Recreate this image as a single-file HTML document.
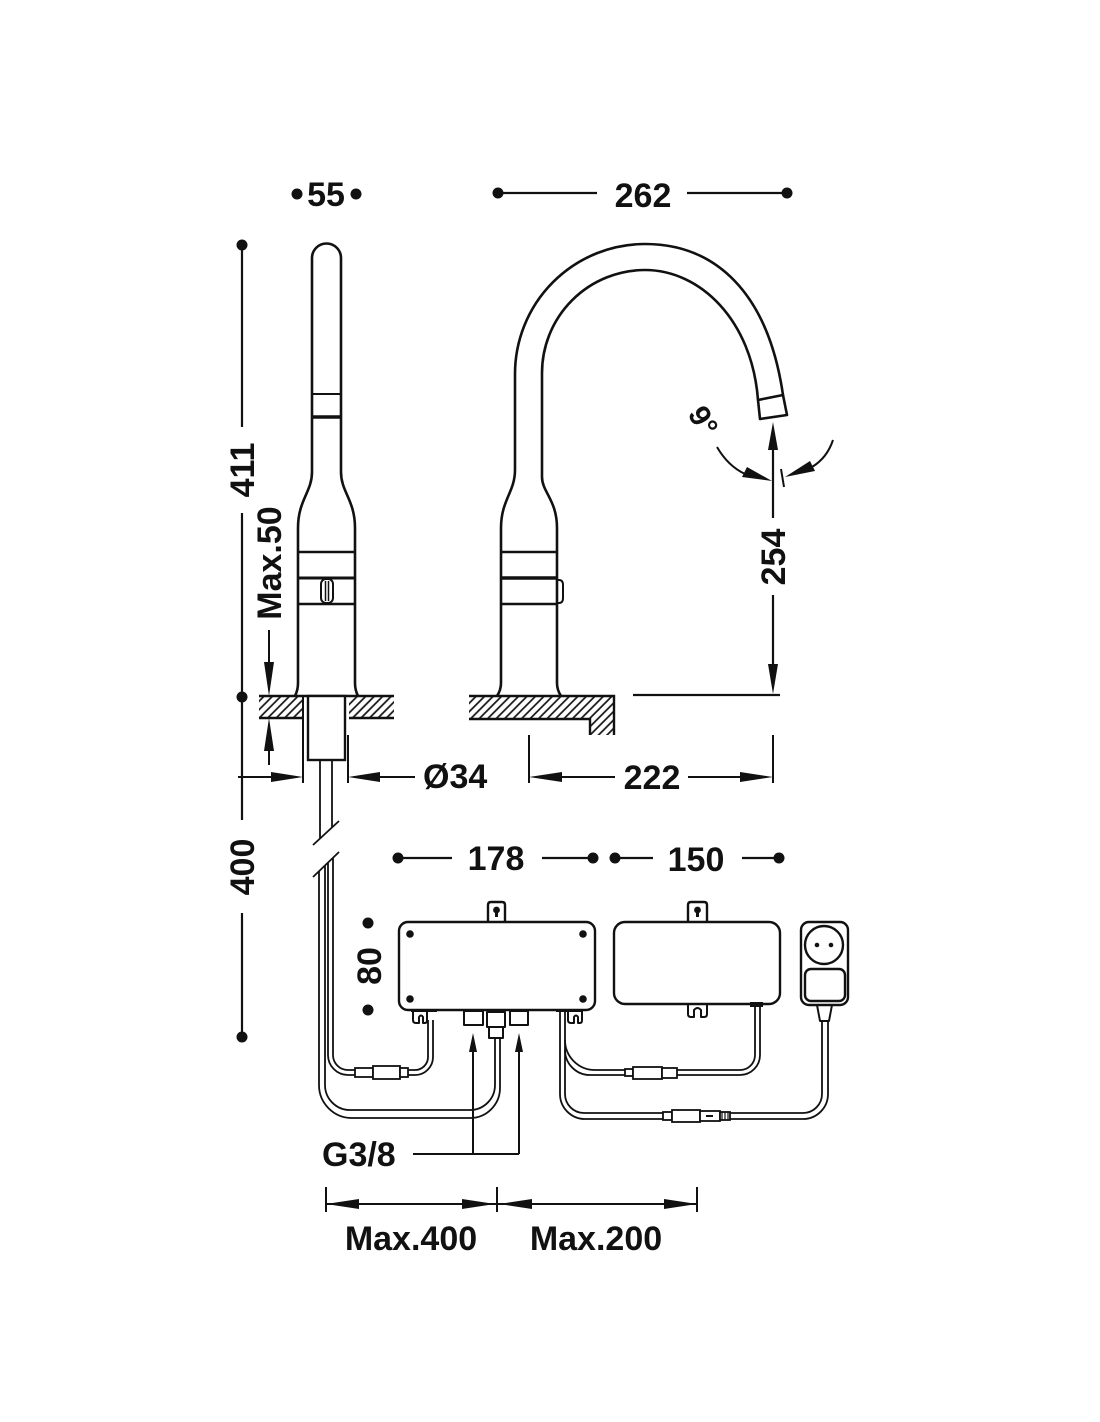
<!DOCTYPE html>
<html>
<head>
<meta charset="utf-8">
<style>
html,body{margin:0;padding:0;background:#fff;}
svg{display:block;}
text{font-family:"Liberation Sans",Arial,sans-serif;font-weight:bold;fill:#111;}
</style>
</head>
<body>
<svg width="1100" height="1422" viewBox="0 0 1100 1422" xmlns="http://www.w3.org/2000/svg">
<defs>
<pattern id="h" width="6" height="6" patternUnits="userSpaceOnUse" patternTransform="rotate(45)">
<line x1="1" y1="0" x2="1" y2="6" stroke="#111" stroke-width="1.7"/>
</pattern>
</defs>
<rect x="0" y="0" width="1100" height="1422" fill="#fff"/>

<!-- ===== Top dimensions ===== -->
<g fill="#111">
<circle cx="297" cy="194" r="5.5"/><circle cx="356" cy="194" r="5.5"/>
<circle cx="498" cy="193" r="5.5"/><circle cx="787" cy="193" r="5.5"/>
<circle cx="242" cy="245" r="5.5"/><circle cx="242" cy="697" r="5.5"/><circle cx="242" cy="1037" r="5.5"/>
<circle cx="398" cy="858" r="5.5"/><circle cx="593" cy="858" r="5.5"/>
<circle cx="615" cy="858" r="5.5"/><circle cx="779" cy="858" r="5.5"/>
<circle cx="368" cy="923" r="5.5"/><circle cx="368" cy="1010" r="5.5"/>
</g>
<text x="326" y="206" font-size="34" text-anchor="middle">55</text>
<g stroke="#111" stroke-width="2.2" fill="none">
<line x1="498" y1="193" x2="597" y2="193"/>
<line x1="687" y1="193" x2="787" y2="193"/>
</g>
<text x="643" y="207" font-size="34" text-anchor="middle">262</text>

<!-- vertical 411 / 400 -->
<g stroke="#111" stroke-width="2.2" fill="none">
<line x1="242" y1="245" x2="242" y2="427"/>
<line x1="242" y1="513" x2="242" y2="697"/>
<line x1="242" y1="697" x2="242" y2="820"/>
<line x1="242" y1="913" x2="242" y2="1037"/>
</g>
<text transform="translate(242,470) rotate(-90)" x="0" y="12" font-size="34" text-anchor="middle">411</text>
<text transform="translate(242,867) rotate(-90)" x="0" y="12" font-size="34" text-anchor="middle">400</text>
<text transform="translate(269,563) rotate(-90)" x="0" y="12" font-size="34" text-anchor="middle">Max.50</text>

<!-- Max.50 arrows -->
<g stroke="#111" stroke-width="2" fill="none">
<line x1="269" y1="630" x2="269" y2="690"/>
<line x1="269" y1="724" x2="269" y2="765"/>
</g>
<polygon points="269,696 264,662 274,662" fill="#111"/>
<polygon points="269,718 264,751 274,751" fill="#111"/>

<!-- ===== Left faucet (front) ===== -->
<g stroke="#111" stroke-width="2.6" fill="none" stroke-linejoin="round">
<path d="M295,696 Q298,690 298,683 L298,528 C298,500 312,492 312,472 L312,258 A14.5,14.5 0 0 1 341,258 L341,472 C341,492 355,500 355,528 L355,683 Q355,690 358,696"/>
<line x1="312" y1="394" x2="341" y2="394" stroke-width="2"/>
<line x1="312" y1="417" x2="341" y2="417" stroke-width="3.4"/>
<line x1="298" y1="552" x2="355" y2="552"/>
<line x1="298" y1="578" x2="355" y2="578" stroke-width="3"/>
<line x1="298" y1="604" x2="355" y2="604"/>
<rect x="321" y="579" width="12" height="24" rx="5" stroke-width="2"/>
<line x1="325.5" y1="581" x2="325.5" y2="601" stroke-width="1.5"/>
<line x1="328.5" y1="581" x2="328.5" y2="601" stroke-width="1.5"/>
</g>

<!-- ===== Right faucet (side) ===== -->
<g stroke="#111" stroke-width="2.6" fill="none" stroke-linejoin="round">
<path d="M497,696 Q501,690 501,683 L501,528 C501,500 515,492 515,470 L515,374 A130,130 0 0 1 645,244 C715,244 768,292 783,395"/>
<path d="M561,696 Q557,690 557,683 L557,528 C557,500 542,492 542,477 L542,373 A103,103 0 0 1 645,270 C700,270 752,320 758,400"/>
<polygon points="758,400 783,395 787,415 760,419"/>
<line x1="501" y1="552" x2="557" y2="552"/>
<line x1="501" y1="578" x2="557" y2="578" stroke-width="3.4"/>
<line x1="501" y1="604" x2="557" y2="604"/>
<path d="M557,580 L559,580 Q563,580 563,585 L563,598 Q563,603 559,603 L557,603" stroke-width="2"/>
</g>

<!-- 9 degree angle -->
<text transform="translate(703,421) rotate(60)" x="0" y="10" font-size="30" text-anchor="middle">9°</text>
<g stroke="#111" stroke-width="2" fill="none">
<path d="M717,447 Q728,466 745,474"/>
<path d="M833,440 Q827,458 812,467"/>
<line x1="781" y1="469" x2="784" y2="487"/>
</g>
<polygon points="772,481 742,477 747,467" fill="#111"/>
<polygon points="785,477 810,461 815,471" fill="#111"/>

<!-- 254 dimension -->
<g stroke="#111" stroke-width="2.2" fill="none">
<line x1="773" y1="440" x2="773" y2="518"/>
<line x1="773" y1="595" x2="773" y2="680"/>
<line x1="633" y1="695" x2="780" y2="695"/>
</g>
<polygon points="773,422 768,450 778,450" fill="#111"/>
<polygon points="773,694 768,664 778,664" fill="#111"/>
<text transform="translate(773,557) rotate(-90)" x="0" y="12" font-size="34" text-anchor="middle">254</text>

<!-- ===== Countertops ===== -->
<rect x="259" y="696" width="45" height="22" fill="url(#h)"/>
<rect x="349" y="696" width="45" height="22" fill="url(#h)"/>
<polygon points="469,696 614,696 614,735 590,735 590,719 469,719" fill="url(#h)"/>
<g stroke="#111" stroke-width="2.4" fill="none">
<line x1="259" y1="696" x2="394" y2="696"/>
<line x1="259" y1="718" x2="304" y2="718"/>
<line x1="349" y1="718" x2="394" y2="718"/>
<polyline points="469,696 614,696 614,735"/>
<polyline points="469,719 590,719 590,735"/>
<rect x="308" y="696" width="37" height="64" fill="#fff"/>
</g>

<!-- Ø34 & 222 dims -->
<g stroke="#111" stroke-width="2" fill="none">
<line x1="303" y1="696" x2="303" y2="783"/>
<line x1="348" y1="735" x2="348" y2="783"/>
<line x1="238" y1="777" x2="280" y2="777"/>
<line x1="370" y1="777" x2="415" y2="777"/>
<line x1="529" y1="735" x2="529" y2="783"/>
<line x1="773" y1="735" x2="773" y2="783"/>
<line x1="550" y1="777" x2="615" y2="777"/>
<line x1="688" y1="777" x2="752" y2="777"/>
</g>
<polygon points="303,777 271,772 271,782" fill="#111"/>
<polygon points="348,777 380,772 380,782" fill="#111"/>
<polygon points="529,777 562,772 562,782" fill="#111"/>
<polygon points="773,777 740,772 740,782" fill="#111"/>
<text x="423" y="788" font-size="34">Ø34</text>
<text x="652" y="789" font-size="34" text-anchor="middle">222</text>

<!-- 178 / 150 -->
<g stroke="#111" stroke-width="2.2" fill="none">
<line x1="398" y1="858" x2="452" y2="858"/>
<line x1="542" y1="858" x2="593" y2="858"/>
<line x1="615" y1="858" x2="653" y2="858"/>
<line x1="742" y1="858" x2="779" y2="858"/>
</g>
<text x="496" y="870" font-size="34" text-anchor="middle">178</text>
<text x="696" y="871" font-size="34" text-anchor="middle">150</text>

<!-- 80 -->
<text transform="translate(369,966) rotate(-90)" x="0" y="12" font-size="34" text-anchor="middle">80</text>

<!-- ===== Hoses from faucet ===== -->
<g stroke="#111" stroke-width="1.8" fill="none">
<line x1="320" y1="760" x2="320" y2="838"/>
<line x1="332" y1="760" x2="332" y2="827"/>
<line x1="313" y1="845" x2="339" y2="821"/>
<line x1="313" y1="877" x2="339" y2="852"/>
<path d="M328,863 V1055 A20,20 0 0 0 348,1075 H356"/>
<path d="M333,858 V1055 A15,15 0 0 0 348,1070 H356"/>
<path d="M408,1070 H415 A13,13 0 0 0 428,1057 V1020"/>
<path d="M408,1075 H415 A18,18 0 0 0 433,1057 V1020"/>
<path d="M319,871 V1085 A33,33 0 0 0 352,1118 H470 A30,30 0 0 0 500,1088 V1037"/>
<path d="M325,866 V1085 A25,25 0 0 0 350,1110 H470 A25,25 0 0 0 495,1085 V1037"/>
</g>
<g stroke="#111" stroke-width="1.8" fill="#fff">
<rect x="355" y="1068" width="18" height="9"/>
<rect x="373" y="1066" width="27" height="13"/>
<rect x="400" y="1068" width="8" height="9"/>
</g>

<!-- ===== Box 1 ===== -->
<g stroke="#111" stroke-width="2.4" fill="#fff" stroke-linejoin="round">
<path d="M488,923 V905 Q488,902 491,902 H502 Q505,902 505,905 V923"/>
<rect x="399" y="922" width="196" height="88" rx="9"/>
<rect x="464" y="1011" width="19" height="14" stroke-width="2"/>
<rect x="487" y="1012" width="18" height="15" stroke-width="2"/>
<rect x="489" y="1027" width="14" height="11" stroke-width="2"/>
<rect x="510" y="1011" width="18" height="14" stroke-width="2"/>
<path d="M413,1010 V1020 Q413,1023 416,1023 H419 V1017 Q421,1014 423,1017 V1023 H425 Q427,1023 427,1020 V1010" stroke-width="2"/>
<path d="M568,1010 V1020 Q568,1023 571,1023 H574 V1017 Q576,1014 578,1017 V1023 H580 Q582,1023 582,1020 V1010" stroke-width="2"/>
</g>
<g fill="#111">
<circle cx="496.5" cy="910" r="3.4"/><rect x="495" y="910" width="3" height="7"/>
<circle cx="410" cy="934" r="3.8"/><circle cx="583" cy="934" r="3.8"/>
<circle cx="410" cy="999" r="3.8"/><circle cx="583" cy="999" r="3.8"/>
<rect x="411" y="1009" width="26" height="3"/>
<rect x="556" y="1009" width="26" height="3"/>
</g>

<!-- G3/8 arrows -->
<g stroke="#111" stroke-width="2" fill="none">
<line x1="473" y1="1050" x2="473" y2="1154"/>
<line x1="519" y1="1050" x2="519" y2="1154"/>
<line x1="413" y1="1154" x2="519" y2="1154"/>
</g>
<polygon points="473,1033 469,1052 477,1052" fill="#111"/>
<polygon points="519,1033 515,1052 523,1052" fill="#111"/>
<text x="322" y="1166" font-size="34">G3/8</text>

<!-- ===== Right-side hoses ===== -->
<g stroke="#111" stroke-width="1.8" fill="none">
<path d="M560,1012 V1094 A25,25 0 0 0 585,1119 H663"/>
<path d="M565,1012 V1094 A19,19 0 0 0 584,1113 H663"/>
<path d="M565,1040 A30,30 0 0 0 595,1070 H625"/>
<path d="M565,1050 A25,25 0 0 0 590,1075 H625"/>
<path d="M677,1070 H740 A15,15 0 0 0 755,1055 V1006"/>
<path d="M677,1075 H740 A20,20 0 0 0 760,1055 V1006"/>
<path d="M730,1113 H803 A19,19 0 0 0 822,1094 V1020"/>
<path d="M730,1119 H803 A25,25 0 0 0 828,1094 V1020"/>
</g>
<g stroke="#111" stroke-width="1.8" fill="#fff">
<rect x="625" y="1069" width="8" height="7"/>
<rect x="633" y="1067" width="29" height="12"/>
<rect x="662" y="1068" width="15" height="10"/>
<rect x="663" y="1112" width="9" height="8"/>
<rect x="672" y="1110" width="28" height="12"/>
<rect x="700" y="1111" width="20" height="10"/>
<rect x="720" y="1112" width="10" height="8"/>
</g>
<g stroke="#111" stroke-width="1.2">
<line x1="706" y1="1116" x2="713" y2="1116" stroke-width="2"/>
<line x1="722" y1="1112" x2="722" y2="1120"/>
<line x1="725" y1="1112" x2="725" y2="1120"/>
<line x1="728" y1="1112" x2="728" y2="1120"/>
</g>

<!-- ===== Box 2 ===== -->
<g stroke="#111" stroke-width="2.4" fill="#fff" stroke-linejoin="round">
<path d="M688,922 V905 Q688,902 691,902 H704 Q707,902 707,905 V922"/>
<path d="M688,1004 V1014 Q688,1017 691,1017 H694 V1010 Q697.5,1006 701,1010 V1017 H704 Q707,1017 707,1014 V1004" stroke-width="2"/>
<rect x="614" y="922" width="166" height="82" rx="11"/>
</g>
<g fill="#111">
<circle cx="697.5" cy="910" r="3.4"/><rect x="696" y="910" width="3" height="7"/>
<rect x="750" y="1002" width="13" height="5"/>
</g>

<!-- ===== Plug ===== -->
<g stroke="#111" stroke-width="2.4" fill="#fff" stroke-linejoin="round">
<polygon points="817,1005 832,1005 829,1021 820,1021" stroke-width="2"/>
<rect x="801" y="922" width="47" height="83" rx="8"/>
<circle cx="824" cy="945" r="19"/>
<rect x="805" y="969" width="40" height="32" rx="6"/>
</g>
<g fill="#111">
<circle cx="817" cy="945" r="2.3"/><circle cx="831" cy="945" r="2.3"/>
</g>

<!-- ===== Bottom dims ===== -->
<g stroke="#111" stroke-width="2" fill="none">
<line x1="326" y1="1187" x2="326" y2="1212"/>
<line x1="497" y1="1187" x2="497" y2="1212"/>
<line x1="697" y1="1187" x2="697" y2="1212"/>
<line x1="326" y1="1204" x2="697" y2="1204"/>
</g>
<g fill="#111">
<polygon points="326,1204 359,1199 359,1209"/>
<polygon points="495,1204 462,1199 462,1209"/>
<polygon points="499,1204 532,1199 532,1209"/>
<polygon points="697,1204 664,1199 664,1209"/>
</g>
<text x="411" y="1250" font-size="34" text-anchor="middle">Max.400</text>
<text x="596" y="1250" font-size="34" text-anchor="middle">Max.200</text>
</svg>
</body>
</html>
